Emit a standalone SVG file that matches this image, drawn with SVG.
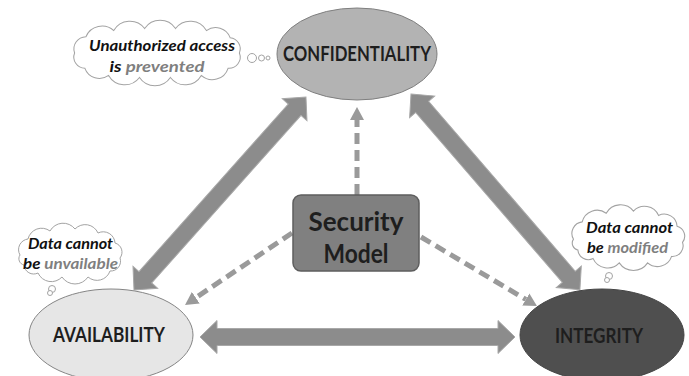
<svg xmlns="http://www.w3.org/2000/svg" xmlns:xlink="http://www.w3.org/1999/xlink" width="689" height="376" viewBox="0 0 689 376">
  <style>
    .label { font-family: "Lato", "Liberation Sans", sans-serif; font-weight: bold; fill: #1e1e1e; text-anchor: middle; }
    .node-label { font-size: 20px; }
    .model-label { font-size: 26px; }
    .thought { font-family: "Lato", "Liberation Sans", sans-serif; font-weight: bold; font-style: italic; font-size: 16px; fill: #111; text-anchor: middle; }
    .thought .soft { fill: #7f7f7f; }
    .cloud { fill: #ffffff; stroke: #a3a3a3; stroke-width: 1; vector-effect: non-scaling-stroke; }
    .bubble { fill: #ffffff; stroke: #a3a3a3; stroke-width: 1; }
    .block-arrow { fill: #8c8c8c; stroke: #a8a8a8; stroke-width: 1; }
    .dashed { fill: none; stroke: #9a9a9a; stroke-width: 5; stroke-dasharray: 11 6; marker-end: url(#dash-head); }
  </style>
  <defs>
    <marker id="dash-head" viewBox="0 0 13 14" refX="0" refY="7" markerWidth="13" markerHeight="14" markerUnits="userSpaceOnUse" orient="auto">
      <path d="M0,0 L13,7 L0,14 Z" fill="#9a9a9a"/>
    </marker>
    <!-- wide cloud outline, centred on the origin -->
    <path id="cloud-wide" d="M-80,0 A12,12 0 0 1 -69,-16 A17,17 0 0 1 -42,-22 A18,18 0 0 1 -12,-24 A18,18 0 0 1 18,-24 A18,18 0 0 1 48,-22 A15,15 0 0 1 71,-15 A11,11 0 0 1 80,0 A11,11 0 0 1 69,15 A16,16 0 0 1 43,22 A18,18 0 0 1 13,24 A18,18 0 0 1 -17,24 A18,18 0 0 1 -47,22 A15,15 0 0 1 -70,15 A11,11 0 0 1 -80,0 Z"/>
    <!-- rounder cloud outline, centred on the origin -->
    <path id="cloud-round" d="M-50,2 A10.7,10.7 0 0 1 -42,-14 A14,14 0 0 1 -20,-22 A15,15 0 0 1 5,-24 A14,14 0 0 1 28,-20 A11.8,11.8 0 0 1 45,-10 A9.5,9.5 0 0 1 50,5 A9.8,9.8 0 0 1 40,18 A13.7,13.7 0 0 1 18,24 A15.6,15.6 0 0 1 -8,24 A14.6,14.6 0 0 1 -32,20 A9.7,9.7 0 0 1 -46,12 A6.5,6.5 0 0 1 -50,2 Z"/>
    <!-- double-headed block arrow for the sides of the triangle -->
    <path id="side-arrow" d="M0,0 L17,-16.5 L17,-8.5 L241.5,-8.5 L241.5,-16.5 L258.5,0 L241.5,16.5 L241.5,8.5 L17,8.5 L17,16.5 Z"/>
  </defs>

  <!-- connectors -->
  <g id="connectors">
    <use xlink:href="#side-arrow" href="#side-arrow" class="block-arrow" transform="translate(134,290) rotate(-48.3)"/>
    <use xlink:href="#side-arrow" href="#side-arrow" class="block-arrow" transform="translate(411,94) rotate(49.2)"/>
    <path class="block-arrow" d="M200,337 L217,320.5 L217,328.5 L498,328.5 L498,320.5 L515,337 L498,353.5 L498,345.5 L217,345.5 L217,353.5 Z"/>
    <line class="dashed" x1="357" y1="195" x2="357" y2="120"/>
    <line class="dashed" x1="292" y1="233" x2="195.8" y2="297.7"/>
    <line class="dashed" x1="421" y1="237" x2="525.8" y2="299.4"/>
  </g>

  <g id="confidentiality">
    <ellipse cx="357" cy="54" rx="80" ry="46" fill="#b3b3b3" stroke="#7f7f7f" stroke-width="1"/>
    <text class="label node-label" x="357" y="61" textLength="148" lengthAdjust="spacingAndGlyphs">CONFIDENTIALITY</text>
  </g>

  <g id="availability">
    <ellipse cx="111" cy="335" rx="82" ry="46" fill="#e6e6e6" stroke="#858585" stroke-width="1"/>
    <text class="label node-label" x="109" y="342" textLength="112" lengthAdjust="spacingAndGlyphs">AVAILABILITY</text>
  </g>

  <g id="integrity">
    <ellipse cx="602" cy="335" rx="82" ry="46" fill="#4f4f4f" stroke="#444" stroke-width="1"/>
    <text class="label node-label" x="599" y="343" textLength="88" lengthAdjust="spacingAndGlyphs" fill="#222">INTEGRITY</text>
  </g>

  <g id="security-model">
    <rect x="293" y="195" width="126" height="76" rx="8" ry="8" fill="#808080" stroke="#5e5e5e" stroke-width="1.5"/>
    <text class="label model-label" x="356" y="231" textLength="95" lengthAdjust="spacingAndGlyphs">Security</text>
    <text class="label model-label" x="356" y="263" textLength="65" lengthAdjust="spacingAndGlyphs">Model</text>
  </g>

  <g id="thought-confidentiality">
    <use xlink:href="#cloud-wide" href="#cloud-wide" class="cloud" transform="translate(157,53) scale(1.03,1.02)"/>
    <circle class="bubble" cx="252" cy="58" r="4.5"/>
    <circle class="bubble" cx="261.5" cy="58" r="3"/>
    <circle class="bubble" cx="268" cy="58" r="2"/>
    <text class="thought" x="162" y="51" textLength="146" lengthAdjust="spacingAndGlyphs">Unauthorized access</text>
    <text class="thought" x="157" y="72" textLength="95" lengthAdjust="spacingAndGlyphs">is <tspan class="soft">prevented</tspan></text>
  </g>

  <g id="thought-availability">
    <use xlink:href="#cloud-round" href="#cloud-round" class="cloud" transform="translate(70,253)"/>
    <circle class="bubble" cx="52" cy="289" r="3.5"/>
    <circle class="bubble" cx="50" cy="293" r="2.5"/>
    <text class="thought" x="70.5" y="249" textLength="85" lengthAdjust="spacingAndGlyphs">Data cannot</text>
    <text class="thought" x="70.5" y="269" textLength="95" lengthAdjust="spacingAndGlyphs">be <tspan class="soft">unvailable</tspan></text>
  </g>

  <g id="thought-integrity">
    <use xlink:href="#cloud-round" href="#cloud-round" class="cloud" transform="translate(628,237) scale(1.09,1.08)"/>
    <circle class="bubble" cx="609" cy="276" r="3.5"/>
    <circle class="bubble" cx="607" cy="280" r="2.5"/>
    <text class="thought" x="629.5" y="233" textLength="87" lengthAdjust="spacingAndGlyphs">Data cannot</text>
    <text class="thought" x="627.5" y="253" textLength="81" lengthAdjust="spacingAndGlyphs">be <tspan class="soft">modified</tspan></text>
  </g>
</svg>
